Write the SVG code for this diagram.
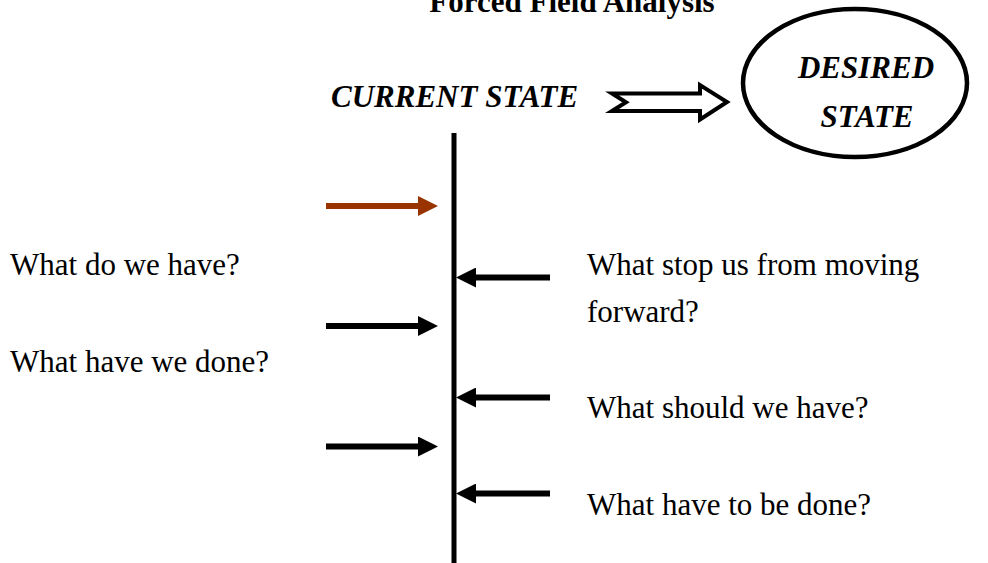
<svg xmlns="http://www.w3.org/2000/svg" width="988" height="563" viewBox="0 0 988 563">
<defs>
<style>
.t{font-family:"Liberation Serif","Times New Roman",serif;font-size:31px;fill:#000}
.b{font-weight:bold}
.bi{font-weight:bold;font-style:italic}
.ln{stroke:#000;stroke-width:6;fill:none}
.red{stroke:#993300}
</style>
<marker id="ah" markerUnits="userSpaceOnUse" markerWidth="20" markerHeight="20" viewBox="0 0 20 20" refX="1" refY="10" orient="auto">
<path d="M0,0 L20,10 L0,20 Z" fill="#000"/>
</marker>
<marker id="ahr" markerUnits="userSpaceOnUse" markerWidth="20" markerHeight="20" viewBox="0 0 20 20" refX="1" refY="10" orient="auto">
<path d="M0,0 L20,10 L0,20 Z" fill="#993300"/>
</marker>
</defs>
<rect width="988" height="563" fill="#fff"/>
<text class="t b" x="572" y="12" text-anchor="middle">Forced Field Analysis</text>

<g id="current-state">
<text class="t bi" x="331" y="107">CURRENT STATE</text>
</g>

<g id="desired-state">
<ellipse cx="855" cy="83" rx="112" ry="74" fill="none" stroke="#000" stroke-width="4.5"/>
<text class="t bi" x="866" y="78" text-anchor="middle">DESIRED</text>
<text class="t bi" x="867" y="127" text-anchor="middle">STATE</text>
</g>

<g id="left-labels">
<text class="t" x="10" y="275">What do we have?</text>
<text class="t" x="10" y="372">What have we done?</text>
</g>

<g id="right-labels">
<text class="t" x="587" y="275">What stop us from moving</text>
<text class="t" x="587" y="322">forward?</text>
<text class="t" x="587" y="418">What should we have?</text>
<text class="t" x="587" y="515">What have to be done?</text>
</g>

<g id="connectors">
<path d="M612,93.5 L700,93.5 L700,85 L727,102 L700,119.5 L700,111 L612,111 L626,102.3 Z" fill="#fff" stroke="#000" stroke-width="4" stroke-linejoin="miter"/>
<line x1="454" y1="133" x2="454" y2="563" stroke="#000" stroke-width="5"/>
<line class="ln red" x1="326" y1="206" x2="419" y2="206" marker-end="url(#ahr)"/>
<line class="ln" x1="326" y1="326" x2="419" y2="326" marker-end="url(#ah)"/>
<line class="ln" x1="326" y1="446.5" x2="419" y2="446.5" marker-end="url(#ah)"/>
<line class="ln" x1="550" y1="277.5" x2="475" y2="277.5" marker-end="url(#ah)"/>
<line class="ln" x1="550" y1="397.5" x2="475" y2="397.5" marker-end="url(#ah)"/>
<line class="ln" x1="550" y1="493.5" x2="475" y2="493.5" marker-end="url(#ah)"/>
</g>
</svg>
